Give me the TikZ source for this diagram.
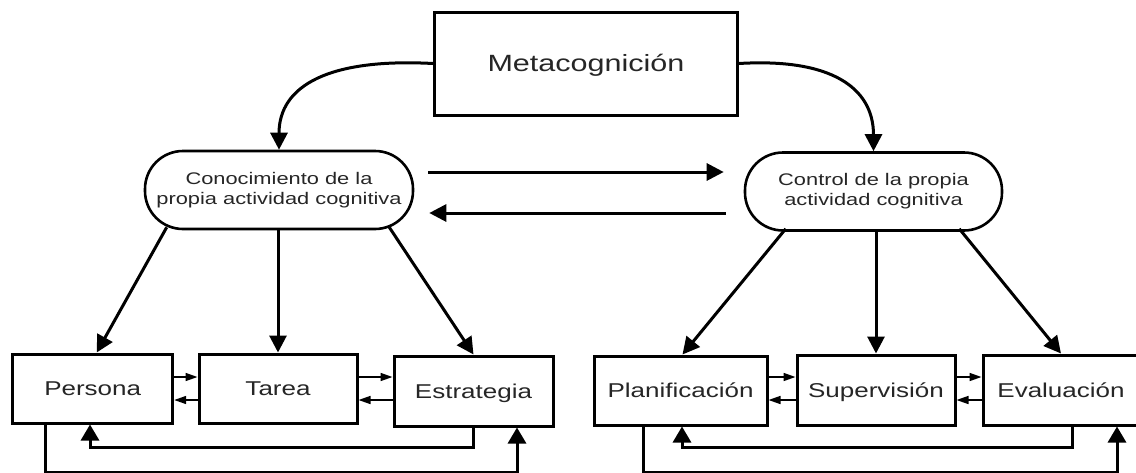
\documentclass[tikz,border=0pt]{standalone}
\usepackage{fontspec}
\newfontfamily\diagfont[FakeStretch=1.3]{Liberation Sans}
\usetikzlibrary{arrows.meta}
\begin{document}
\begin{tikzpicture}[x=1pt,y=-1pt,
  box/.style={draw, line width=3pt, rectangle, inner sep=0pt,
    font=\diagfont\fontsize{20}{24}\selectfont, text=black!85,
    text height=14.3pt, text depth=0pt},
  topbox/.style={box, font=\diagfont\fontsize{23.5}{28}\selectfont,
    text height=16.8pt},
  oval/.style={draw, line width=2.6pt, rectangle, rounded corners=38pt,
    minimum height=78pt, inner sep=0pt, align=center,
    font=\diagfont\fontsize{16.8}{20}\selectfont, text=black!85},
  bigarrow/.style={line width=3pt, -{Triangle[length=17pt,width=17pt]}},
  fbarrow/.style={line width=3pt, -{Triangle[length=16pt,width=18pt]}},
  smallarrow/.style={line width=1.5pt, -{Triangle[length=12pt,width=8pt]}},
]
\clip (0,0) rectangle (1136,472);
\fill[white] (0,0) rectangle (1136,472);

% main concept and its two components
\node[topbox, minimum width=303pt, minimum height=103pt] (meta) at (586,63.5) {Metacognición};
\node[oval, minimum width=268pt] (loval) at (279,190) {Conocimiento de la\\propia actividad cognitiva};
\node[oval, minimum width=257pt] (roval) at (873.5,191.5) {Control de la propia\\actividad cognitiva};

% lower row of boxes
\node[box, minimum width=160pt, minimum height=69pt] (pers) at (92.7,388.5) {Persona};
\node[box, minimum width=158pt, minimum height=69pt] (tarea) at (278,388.5) {Tarea};
\node[box, minimum width=159pt, minimum height=70pt] (estr) at (473.5,391) {Estrategia};
\node[box, minimum width=173pt, minimum height=69pt] (plan) at (680.5,390.5) {Planificación};
\node[box, minimum width=158pt, minimum height=70pt] (superv) at (876,390) {Supervisión};
\node[box, minimum width=156pt, minimum height=70pt] (eval) at (1061,390) {Evaluación};

% curved arrows from the top box
\draw[bigarrow] (meta.west) .. controls (330,58) and (279,85) .. (loval.north);
\draw[bigarrow] (meta.east) .. controls (830,58) and (873.5,87) .. (roval.north);

% arrows between the two components
\coordinate (u1) at ([xshift=14pt,yshift=18pt]loval.east);
\draw[bigarrow, shorten >=20pt] (u1) -- (u1 -| roval.west);
\coordinate (u2) at ([xshift=15pt,yshift=-23pt]loval.east);
\draw[bigarrow, shorten <=18pt] (u2 -| roval.west) -- (u2);

% arrows down to the boxes
\draw[bigarrow] ([xshift=23pt,yshift=3pt]loval.south west) -- ([xshift=4pt]pers.north);
\draw[bigarrow] (tarea.north |- loval.south) -- (tarea.north);
\draw[bigarrow] ([xshift=-25pt,yshift=3pt]loval.south east) -- (estr.north);
\draw[bigarrow] ([xshift=42pt,yshift=3pt]roval.south west) -- ([xshift=2pt]plan.north);
\draw[bigarrow] (superv.north |- roval.south) -- (superv.north);
\draw[bigarrow] ([xshift=-44pt,yshift=3pt]roval.south east) -- (eval.north);

% small arrows between neighbouring boxes
\coordinate (pt1) at ([yshift=11.5pt]pers.east);
\draw[smallarrow] (pt1) -- (pt1 -| tarea.west);
\coordinate (pt2) at ([yshift=-11.5pt]tarea.west);
\draw[smallarrow] (pt2) -- (pt2 -| pers.east);
\coordinate (te1) at ([yshift=11.5pt]tarea.east);
\draw[smallarrow] (te1) -- (te1 -| estr.west);
\coordinate (te2) at ([yshift=-11.5pt]tarea.east);
\draw[smallarrow] (te2 -| estr.west) -- (te2);

\coordinate (ps1) at ([yshift=13pt]superv.west);
\draw[smallarrow] (ps1 -| plan.east) -- (ps1);
\coordinate (ps2) at ([yshift=-10pt]superv.west);
\draw[smallarrow] (ps2) -- (ps2 -| plan.east);
\coordinate (se1) at ([yshift=13pt]superv.east);
\draw[smallarrow] (se1) -- (se1 -| eval.west);
\coordinate (se2) at ([yshift=-10pt]superv.east);
\draw[smallarrow] (se2 -| eval.west) -- (se2);

% feedback loops below the boxes
\draw[fbarrow] (estr.south) -- ++(0,20) -| ([xshift=-2.7pt]pers.south);
\draw[fbarrow] ([xshift=-47.7pt]pers.south) -- ++(0,48) -| ([xshift=43.5pt]estr.south);
\draw[fbarrow] ([xshift=11pt]eval.south) -- ++(0,21) -| ([xshift=1.5pt]plan.south);
\draw[fbarrow] ([xshift=-37.5pt]plan.south) -- ++(0,46) -| ([xshift=56pt]eval.south);
\end{tikzpicture}
\end{document}
